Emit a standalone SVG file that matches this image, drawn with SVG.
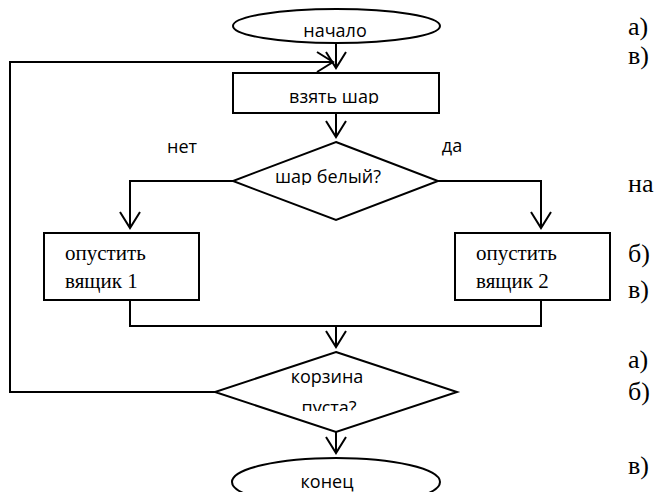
<svg xmlns="http://www.w3.org/2000/svg" width="669" height="492" viewBox="0 0 669 492">
<style>
.s{fill:#fff;stroke:#000;stroke-width:2}
.c{fill:none;stroke:#000;stroke-width:2}
.t{font-family:"Open Sans","DejaVu Sans",sans-serif;font-size:18px;fill:#000;text-anchor:middle}
.r{font-family:"Liberation Serif","Times New Roman",serif;font-size:21px;fill:#000}
.m{font-family:"Liberation Serif","Times New Roman",serif;font-size:26px;fill:#000}
</style>
<defs>
<marker id="arr" markerUnits="userSpaceOnUse" markerWidth="24" markerHeight="28" viewBox="-20 -14 24 28" refX="0" refY="0" orient="auto" overflow="visible">
<path d="M-16,-10 L0,0 L-16,10" fill="none" stroke="#000" stroke-width="2"/>
</marker>
<clipPath id="c1"><rect x="230" y="74" width="210" height="30"/></clipPath>
<clipPath id="c2"><rect x="230" y="160" width="210" height="25"/></clipPath>
<clipPath id="c3"><rect x="230" y="395" width="210" height="16"/></clipPath>
</defs>
<g id="connectors">
<path class="c" d="M336,43 V68" marker-end="url(#arr)"/>
<path class="c" d="M215,392 H10 V62 H333" marker-end="url(#arr)"/>
<path class="c" d="M336,113 V137" marker-end="url(#arr)"/>
<path class="c" d="M233,181 H130 V228" marker-end="url(#arr)"/>
<path class="c" d="M438,181 H541 V228" marker-end="url(#arr)"/>
<path class="c" d="M130,300 V326 H541 V300"/>
<path class="c" d="M336,326 V347" marker-end="url(#arr)"/>
<path class="c" d="M336,432 V453" marker-end="url(#arr)"/>
<text class="t" x="182" y="153">нет</text>
<text class="t" x="452" y="152">да</text>
</g>
<g id="start">
<ellipse class="s" cx="336.5" cy="26" rx="103.5" ry="17"/>
<text class="t" x="335" y="37">начало</text>
</g>
<g id="take">
<rect class="s" x="233" y="73" width="206" height="40"/>
<text class="t" x="334" y="103" clip-path="url(#c1)">взять шар</text>
</g>
<g id="white">
<polygon class="s" points="336,142 438,181 336,220 233,181"/>
<text class="t" x="328" y="183" clip-path="url(#c2)">шар белый?</text>
</g>
<g id="box1">
<rect class="s" x="44" y="233" width="155" height="67"/>
<text class="r" x="65" y="260">опустить</text>
<text class="r" x="65" y="288">вящик 1</text>
</g>
<g id="box2">
<rect class="s" x="455" y="233" width="155" height="67"/>
<text class="r" x="476" y="260">опустить</text>
<text class="r" x="476" y="288">вящик 2</text>
</g>
<g id="empty">
<polygon class="s" points="336,352 457,392 336,432 215,392"/>
<text class="t" x="327" y="383">корзина</text>
<text class="t" x="329" y="414" clip-path="url(#c3)">пуста?</text>
</g>
<g id="end">
<ellipse class="s" cx="336" cy="482" rx="104" ry="24"/>
<text class="t" x="327" y="488">конец</text>
</g>
<g id="side">
<text class="m" x="628" y="35">а)</text>
<text class="m" x="628" y="64">в)</text>
<text class="m" x="628" y="192">на</text>
<text class="m" x="628" y="262">б)</text>
<text class="m" x="628" y="298">в)</text>
<text class="m" x="628" y="368">а)</text>
<text class="m" x="628" y="400">б)</text>
<text class="m" x="628" y="474">в)</text>
</g>
</svg>
